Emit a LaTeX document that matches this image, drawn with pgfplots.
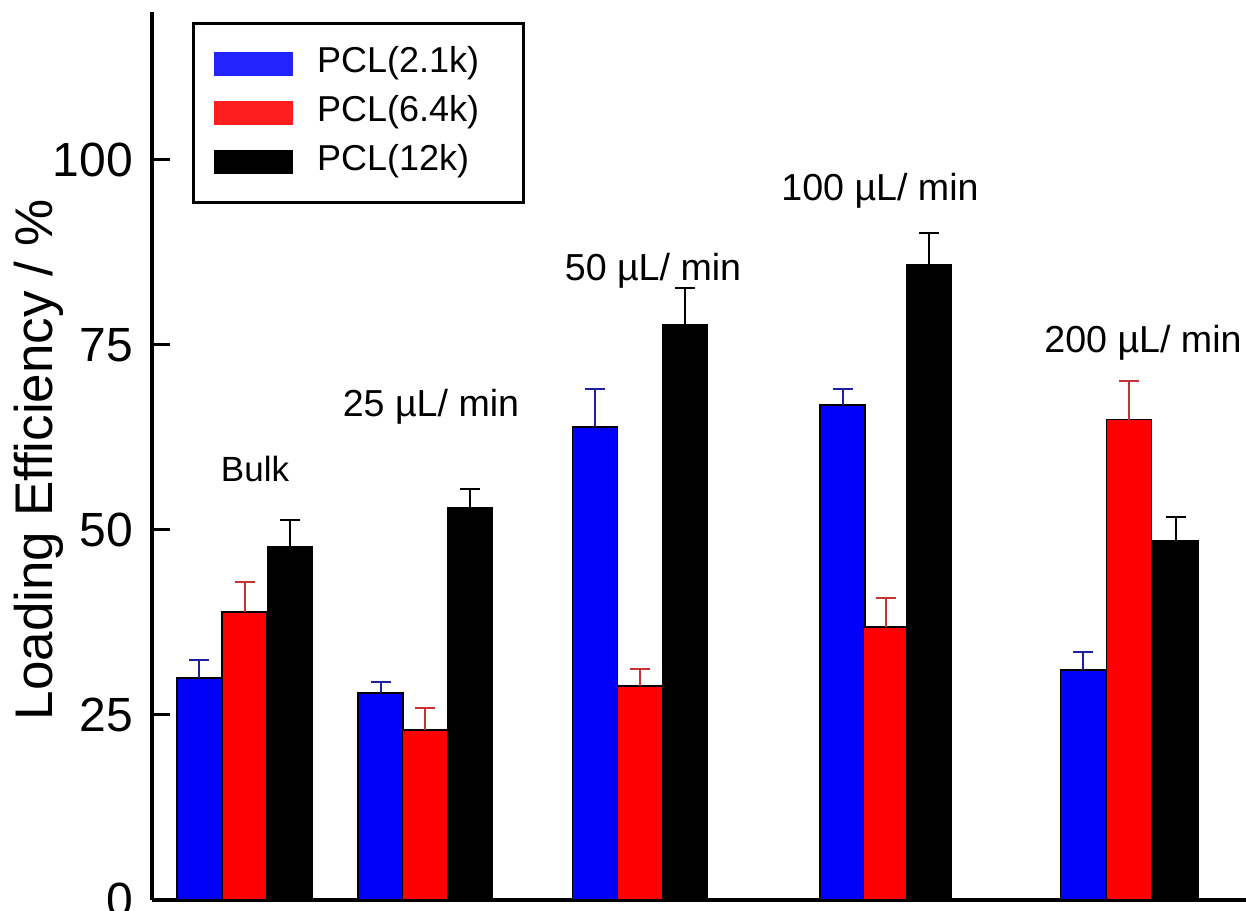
\documentclass[border=0pt]{standalone}
\usepackage{fontspec}
\setmainfont{Liberation Sans}
\usepackage{pgfplots}
\pgfplotsset{compat=1.18}
\definecolor{cblue}{RGB}{0,0,250}
\definecolor{cred}{RGB}{255,0,0}
\definecolor{eblue}{RGB}{30,30,160}
\definecolor{ered}{RGB}{200,50,50}
\definecolor{lblue}{RGB}{35,35,255}
\definecolor{lred}{RGB}{255,30,30}
\begin{document}
\begin{tikzpicture}
\begin{axis}[
  scale only axis, width=547pt, height=444pt,
  xmin=152, xmax=1246, ymin=0, ymax=120,
  axis x line=bottom, axis y line=left,
  axis line style={line width=2pt,-},
  xtick=\empty,
  ytick={0,25,50,75,100},
  tick align=inside,
  major tick length=9pt,
  tick style={line width=1.5pt, black},
  /pgf/number format/assume math mode=true,
  yticklabel style={font=\fontsize{24}{28}\selectfont, xshift=-6pt},
  every axis y label/.style={at={(axis description cs:-0.0914,0.4955)}, rotate=90, anchor=base, font=\fontsize{26.5}{30}\selectfont},
  ylabel={Loading Efficiency / \%},
  clip=false,
  ybar, bar width=45, bar shift=0pt,
  legend style={at={(axis description cs:0.0366,0.9887)}, anchor=north west, draw=black, line width=1.5pt,
    inner xsep=10pt, inner ysep=12pt, row sep=8pt, font=\fontsize{18}{21}\selectfont,
    nodes={inner sep=0pt, text height=12.5pt, text depth=4pt},
    /tikz/every odd column/.append style={column sep=12pt}},
  legend cell align=left,
]
\addplot[fill=cblue, draw=black, line width=0.75pt,
  legend image code/.code={\fill[lblue] (0pt,-5.5pt) rectangle (39pt,5.5pt);},
  error bars/y dir=plus, error bars/y explicit,
  error bars/error bar style={line width=1pt, eblue},
  error bars/error mark options={rotate=90, mark size=5pt, line width=1pt, eblue}]
  coordinates {(199.5,30.0) +- (0,2.4) (380.5,28.0) +- (0,1.5) (595,63.9) +- (0,5.2) (842.5,66.9) +- (0,2.2) (1083,31.1) +- (0,2.4)};
\addlegendentry{PCL(2.1k)\hspace*{12pt}}
\addplot[fill=cred, draw=black, line width=0.75pt,
  legend image code/.code={\fill[lred] (0pt,-5.5pt) rectangle (39pt,5.5pt);},
  error bars/y dir=plus, error bars/y explicit,
  error bars/error bar style={line width=1pt, ered},
  error bars/error mark options={rotate=90, mark size=5pt, line width=1pt, ered}]
  coordinates {(244.5,38.9) +- (0,4.1) (425,23.0) +- (0,2.9) (640,28.9) +- (0,2.3) (886,36.9) +- (0,3.9) (1129,64.9) +- (0,5.2)};
\addlegendentry{PCL(6.4k)}
\addplot[fill=black, draw=black, line width=0.75pt,
  legend image code/.code={\fill[black] (0pt,-5.5pt) rectangle (39pt,5.5pt);},
  error bars/y dir=plus, error bars/y explicit,
  error bars/error bar style={line width=1pt, black},
  error bars/error mark options={rotate=90, mark size=5pt, line width=1pt, black}]
  coordinates {(290,47.8) +- (0,3.6) (470,53.0) +- (0,2.5) (685,77.8) +- (0,4.9) (929,85.8) +- (0,4.3) (1175.5,48.5) +- (0,3.3)};
\addlegendentry{PCL(12k)}
\node[font=\fontsize{17.5}{20}\selectfont, anchor=base] at (axis cs:255,56.49) {Bulk};
\node[font=\fontsize{18.8}{22}\selectfont, anchor=base] at (axis cs:431,65.27) {25 µL/ min};
\node[font=\fontsize{18.8}{22}\selectfont, anchor=base] at (axis cs:653,83.78) {50 µL/ min};
\node[font=\fontsize{18.8}{22}\selectfont, anchor=base] at (axis cs:880,94.46) {100 µL/ min};
\node[font=\fontsize{18.8}{22}\selectfont, anchor=base] at (axis cs:1143,73.92) {200 µL/ min};
\coordinate (bbll) at (axis cs:0,-1.486);
\coordinate (bbur) at (axis cs:1246,121.62);
\end{axis}
\pgfresetboundingbox
\path[use as bounding box] (bbll) rectangle (bbur);
\end{tikzpicture}
\end{document}
